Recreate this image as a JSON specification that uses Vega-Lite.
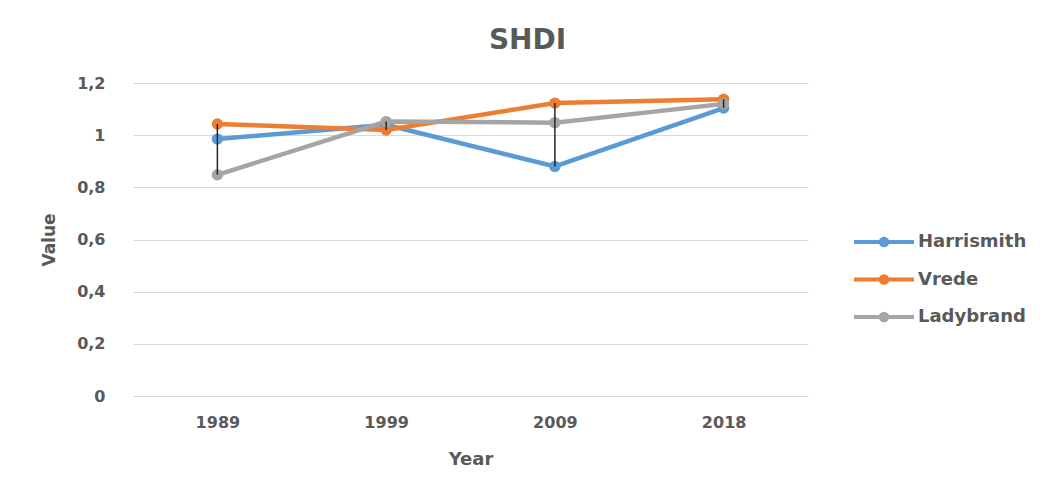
{
  "$schema": "https://vega.github.io/schema/vega-lite/v6.json",
  "width": 675,
  "height": 313,
  "autosize": {"type": "none"},
  "padding": {"left": 133, "top": 83, "right": 239, "bottom": 95},
  "background": "white",
  "config": {"view": {"stroke": null}},
  "title": {
    "text": "SHDI",
    "fontSize": 28,
    "font": "DejaVu Sans",
    "fontWeight": "bold",
    "color": "#595959",
    "anchor": "middle",
    "dx": 57,
    "offset": 20
  },
  "data": {
    "values": [
      {"Year": "1989", "Series": "Harrismith", "Value": 0.985},
      {"Year": "1999", "Series": "Harrismith", "Value": 1.04},
      {"Year": "2009", "Series": "Harrismith", "Value": 0.88},
      {"Year": "2018", "Series": "Harrismith", "Value": 1.104},
      {"Year": "1989", "Series": "Vrede", "Value": 1.043},
      {"Year": "1999", "Series": "Vrede", "Value": 1.02},
      {"Year": "2009", "Series": "Vrede", "Value": 1.123},
      {"Year": "2018", "Series": "Vrede", "Value": 1.138},
      {"Year": "1989", "Series": "Ladybrand", "Value": 0.848},
      {"Year": "1999", "Series": "Ladybrand", "Value": 1.052},
      {"Year": "2009", "Series": "Ladybrand", "Value": 1.048},
      {"Year": "2018", "Series": "Ladybrand", "Value": 1.12}
    ]
  },
  "layer": [
    {
      "mark": {"type": "line", "strokeWidth": 4.5, "point": {"filled": true, "size": 130, "opacity": 1}},
      "encoding": {
        "x": {
          "field": "Year", "type": "ordinal",
          "scale": {"type": "point", "padding": 0.5},
          "axis": {
            "title": "Year", "labelAngle": 0, "domain": false, "ticks": false, "grid": false,
            "labelFont": "DejaVu Sans", "labelFontWeight": "bold", "labelFontSize": 16, "labelColor": "#595959",
            "labelPadding": 18,
            "titleFont": "DejaVu Sans", "titleFontWeight": "bold", "titleFontSize": 18, "titleColor": "#595959",
            "titlePadding": 20
          }
        },
        "y": {
          "field": "Value", "type": "quantitative",
          "scale": {"domain": [0, 1.2], "nice": false},
          "axis": {
            "title": "Value", "values": [0, 0.2, 0.4, 0.6, 0.8, 1, 1.2],
            "labelExpr": "replace(format(datum.value, '.1~f'), '.', ',')",
            "domain": false, "ticks": false, "grid": true, "gridColor": "#d9d9d9", "gridWidth": 1.2,
            "labelFont": "DejaVu Sans", "labelFontWeight": "bold", "labelFontSize": 16, "labelColor": "#595959",
            "labelPadding": 28,
            "titleFont": "DejaVu Sans", "titleFontWeight": "bold", "titleFontSize": 17, "titleColor": "#595959",
            "titlePadding": 18
          }
        },
        "color": {
          "field": "Series", "type": "nominal",
          "scale": {"domain": ["Harrismith", "Vrede", "Ladybrand"], "range": ["#5B9BD5", "#ED7D31", "#A5A5A5"]},
          "legend": {
            "title": null, "orient": "none", "legendX": 734, "legendY": 142,
            "symbolType": "M-2,0H2M-0.22,0a0.22,0.22 0 1,0 0.44,0a0.22,0.22 0 1,0 -0.44,0",
            "symbolSize": 900, "symbolStrokeWidth": 4, "symbolFillColor": "transparent",
            "labelFont": "DejaVu Sans", "labelFontWeight": "bold", "labelFontSize": 18, "labelColor": "#595959",
            "labelOffset": 17, "rowPadding": 8.5
          }
        }
      }
    },
    {
      "transform": [
        {"aggregate": [{"op": "min", "field": "Value", "as": "lo"}, {"op": "max", "field": "Value", "as": "hi"}], "groupby": ["Year"]}
      ],
      "mark": {"type": "rule", "color": "#262626", "strokeWidth": 1.5},
      "encoding": {
        "x": {"field": "Year", "type": "ordinal"},
        "y": {"field": "lo", "type": "quantitative"},
        "y2": {"field": "hi"}
      }
    }
  ]
}
